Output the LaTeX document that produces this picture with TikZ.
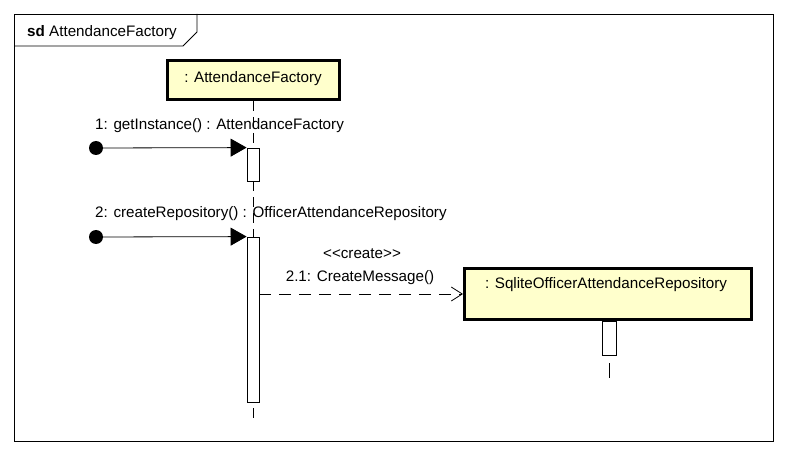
\documentclass[tikz,border=0pt]{standalone}
\usepackage{fontspec}
\setmainfont{Liberation Sans}
\usetikzlibrary{arrows.meta}
\definecolor{objfill}{RGB}{255,255,204}
\begin{document}
\begin{tikzpicture}[x=1pt,y=-1pt,font=\fontsize{15.2}{18}\selectfont,
  objbox/.style={draw,line width=3pt,fill=objfill,rectangle,inner sep=0pt},
  actbox/.style={draw,line width=0.8pt,fill=white,rectangle,inner sep=0pt,minimum width=12pt},
  lifeline/.style={line width=0.8pt,dash pattern=on 10pt off 6pt},
  txt/.style={inner sep=0pt},
  startdot/.style={circle,fill=black,inner sep=0pt,minimum size=14pt},
  syncmsg/.style={line width=0.8pt,-{Triangle[length=16pt,width=18pt]}},
  createmsg/.style={line width=0.8pt,dash pattern=on 12pt off 8pt,-{Straight Barb[length=11pt,width=14pt]}}]
\useasboundingbox (0,0) rectangle (786,454);
\fill[white] (0,0) rectangle (786,454);
% frame
\draw[line width=0.8pt] (14,14) rectangle (773,441);
\draw[line width=0.8pt] (14,46) -- (183,46) -- (197,32) -- (197,14);
\node[txt,anchor=base west] (title) at (27,37) {\textbf{sd} AttendanceFactory};
% objects
\node[objbox,minimum width=172pt,minimum height=39pt] (o1) at (253,80) {};
\node[txt,anchor=base] (o1t) at (253,83) {: AttendanceFactory};
\node[objbox,minimum width=287pt,minimum height=51pt] (o2) at (608,294) {};
\node[txt,anchor=base] (o2t) at (606,288) {: SqliteOfficerAttendanceRepository};
% activations
\node[actbox,minimum height=33pt] (a1) at (253,164.5) {};
\node[actbox,minimum height=165pt] (a2) at (253,319.5) {};
\node[actbox,minimum width=14pt,minimum height=34pt] (a3) at (609,338) {};
\coordinate (e1) at (253,418);
\coordinate (e2) at (609,378);
% lifelines
\draw[lifeline] (o1.south) -- (a1.north);
\draw[lifeline] (a1.south) -- (a2.north);
\draw[line width=0.8pt,dash pattern=on 10pt off 6pt,dash phase=10pt] (a2.south) -- (e1);
\draw[line width=0.8pt,dash pattern=on 15pt off 8pt,dash phase=15pt] (a3.south) -- (e2);
% messages
\node[startdot] (d1) at (96,148) {};
\node[startdot] (d2) at (96,237) {};
\draw[syncmsg] (d1.center) -- (a1.north west);
\draw[syncmsg] (d2.center) -- (a2.north west);
\node[txt,anchor=base west] (m1) at (95,130) {1: getInstance() : AttendanceFactory};
\node[txt,anchor=base west] (m2) at (95,218) {2: createRepository() : OfficerAttendanceRepository};
\draw[createmsg] (a2.east |- o2.west) -- (o2.west);
\node[txt,anchor=base] (m3a) at (362,258) {<{}<create>{}>};
\node[txt,anchor=base] (m3b) at (360,281) {2.1: CreateMessage()};
\end{tikzpicture}
\end{document}
